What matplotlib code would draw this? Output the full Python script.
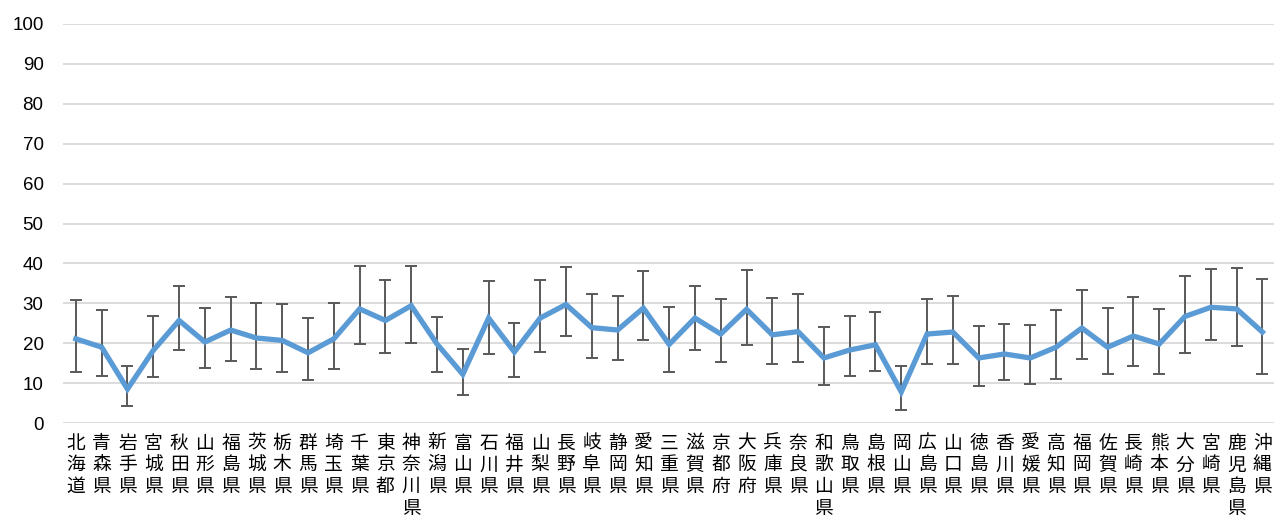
import matplotlib.pyplot as plt
import numpy as np

# prefectures and values (mean, upper and lower error bar ends)
prefectures = ["北海道", "青森県", "岩手県", "宮城県", "秋田県", "山形県", "福島県", "茨城県",
               "栃木県", "群馬県", "埼玉県", "千葉県", "東京都", "神奈川県", "新潟県", "富山県",
               "石川県", "福井県", "山梨県", "長野県", "岐阜県", "静岡県", "愛知県", "三重県",
               "滋賀県", "京都府", "大阪府", "兵庫県", "奈良県", "和歌山県", "鳥取県", "島根県",
               "岡山県", "広島県", "山口県", "徳島県", "香川県", "愛媛県", "高知県", "福岡県",
               "佐賀県", "長崎県", "熊本県", "大分県", "宮崎県", "鹿児島県", "沖縄県"]

values = [21.1, 19.0, 8.5, 18.2, 25.7, 20.3, 23.3, 21.3, 20.7, 17.6, 21.1, 28.6, 25.7, 29.4,
          19.8, 12.2, 26.3, 17.8, 26.3, 29.7, 23.9, 23.3, 28.8, 19.7, 26.3, 22.3, 28.5, 22.1,
          22.9, 16.3, 18.3, 19.6, 7.8, 22.3, 22.8, 16.3, 17.3, 16.3, 19.0, 23.8, 19.0, 21.8,
          19.8, 26.7, 29.0, 28.6, 22.8]

upper = [30.9, 28.4, 14.3, 26.8, 34.3, 28.7, 31.5, 30.0, 29.7, 26.2, 30.0, 39.3, 35.9, 39.3,
         26.6, 18.6, 35.5, 25.0, 35.9, 39.0, 32.3, 31.8, 38.1, 29.0, 34.3, 31.2, 38.4, 31.4,
         32.3, 24.1, 26.8, 27.7, 14.4, 31.0, 31.8, 24.3, 24.9, 24.5, 28.4, 33.4, 28.8, 31.7,
         28.5, 36.9, 38.7, 38.8, 36.0]

lower = [12.9, 11.8, 4.3, 11.6, 18.4, 13.7, 15.5, 13.6, 12.9, 10.8, 13.6, 19.7, 17.6, 20.0,
         12.9, 6.9, 17.3, 11.6, 17.9, 21.7, 16.3, 15.9, 20.9, 12.9, 18.3, 15.3, 19.5, 14.8,
         15.3, 9.5, 11.8, 13.1, 3.3, 14.9, 14.8, 9.3, 10.9, 9.7, 11.1, 16.0, 12.3, 14.3,
         12.4, 17.6, 20.8, 19.3, 12.3]

yticks = list(range(0, 101, 10))

x = np.arange(len(prefectures))
vals = np.array(values)
err = [vals - np.array(lower), np.array(upper) - vals]

fig = plt.figure(figsize=(12.74, 5.18), dpi=100)
ax = fig.add_axes([63 / 1274, 95 / 518, 1 - 63 / 1274, 399 / 518])

# error bars under the line
ax.errorbar(x, vals, yerr=err, fmt='none', ecolor='#595959', elinewidth=1.4,
            capsize=4.3, capthick=1.4, zorder=2)
ax.plot(x, vals, color='#5B9BD5', linewidth=3.8, solid_joinstyle='miter', zorder=3)

ax.set_xlim(-0.5, 46.45)
ax.set_ylim(0, 100)
ax.set_yticks(yticks)
ax.set_yticklabels([str(t) for t in yticks], fontsize=13.5, family='Liberation Sans')
ax.yaxis.grid(True, color='#d9d9d9', linewidth=1.3, zorder=0)
ax.set_axisbelow(True)

ax.set_xticks(x)
ax.set_xticklabels(['\n'.join(p) for p in prefectures], fontsize=13.5,
                   family=['Noto Sans CJK JP', 'DejaVu Sans'], linespacing=1.04,
                   va='top', ha='center')

ax.tick_params(axis='both', length=0)
ax.tick_params(axis='y', pad=14)
ax.tick_params(axis='x', pad=7)
for s in ax.spines.values():
    s.set_visible(False)

fig.savefig('out.png', dpi=100)
